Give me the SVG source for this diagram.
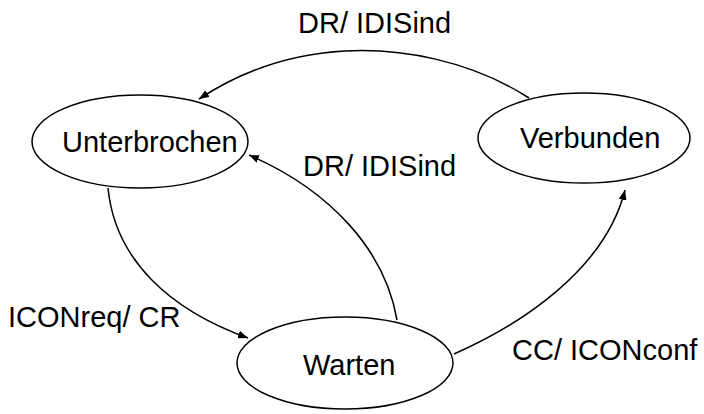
<svg xmlns="http://www.w3.org/2000/svg" width="704" height="414" viewBox="0 0 704 414">
<style>
.n{fill:#fff;stroke:#000;stroke-width:1.5}
.t{font-family:"Liberation Sans",Arial,sans-serif;font-size:29px;fill:#000}
.e{fill:none;stroke:#000;stroke-width:1.5}
</style>
<defs>
<marker id="a" viewBox="0 0 10 8" refX="10" refY="4" markerWidth="10" markerHeight="8" markerUnits="userSpaceOnUse" orient="auto">
<path d="M0,0 L10,4 L0,8 z" fill="#000"/>
</marker>
</defs>
<rect width="704" height="414" fill="#fff"/>
<g id="edges">
<path class="e" d="M529,98 C470,60 400,48 345,51 C290,54 240,72 199,99" marker-end="url(#a)"/>
<path class="e" d="M397,320 C385,250 330,190 249,155" marker-end="url(#a)"/>
<path class="e" d="M108,188 C115,260 170,310 248,338" marker-end="url(#a)"/>
<path class="e" d="M454,354 C520,325 605,270 625,190" marker-end="url(#a)"/>
<text class="t" x="298" y="32.5">DR/ IDISind</text>
<text class="t" x="303" y="176">DR/ IDISind</text>
<text class="t" x="8" y="327">ICONreq/ CR</text>
<text class="t" x="512" y="360">CC/ ICONconf</text>
</g>
<g id="unterbrochen">
<ellipse class="n" cx="140" cy="141.5" rx="108" ry="46.5"/>
<text class="t" x="62" y="151.5">Unterbrochen</text>
</g>
<g id="verbunden">
<ellipse class="n" cx="584" cy="138" rx="106" ry="45"/>
<text class="t" x="520" y="148">Verbunden</text>
</g>
<g id="warten">
<ellipse class="n" cx="345" cy="363" rx="108" ry="46"/>
<text class="t" x="303" y="375">Warten</text>
</g>
</svg>
